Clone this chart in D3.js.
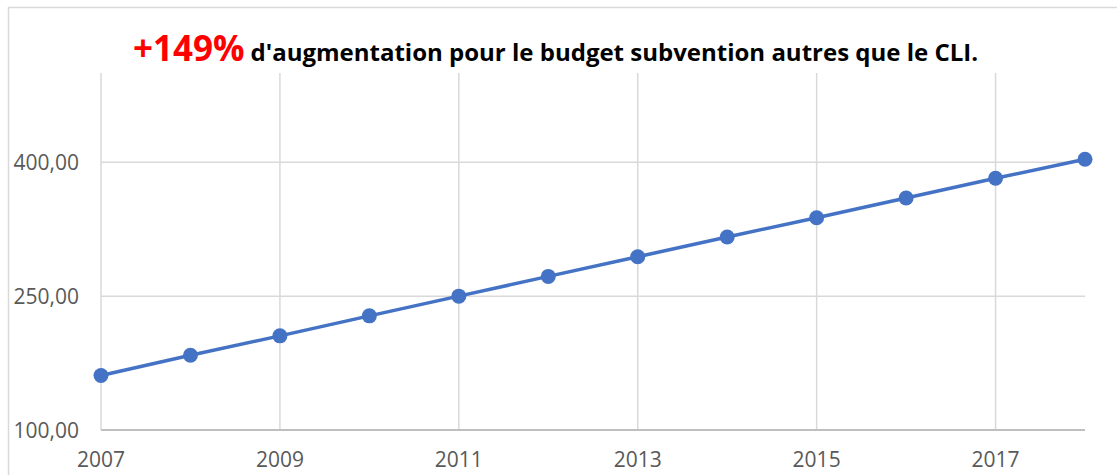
<!DOCTYPE html>
<html>
<head>
<meta charset="utf-8">
<script src="https://cdn.jsdelivr.net/npm/d3@7"></script>
<style>
    body { margin: 0; background: #fff; }
    svg { display: block; font-family: 'Open Sans', 'Noto Sans', sans-serif; }
</style>
</head>
<body>
<div id="chart"></div>
<script>
// Budget subvention (hors CLI) par année
const years = [2007, 2008, 2009, 2010, 2011, 2012, 2013, 2014, 2015, 2016, 2017, 2018];
const budget = [161.0, 183.8, 205.5, 227.9, 250.0, 272.1, 294.1, 316.3, 337.8, 360.0, 382.0, 403.4];
const yTicks = [100, 250, 400];
const xTicks = [2007, 2009, 2011, 2013, 2015, 2017];
const titleHighlight = '+149%';
const titleRest = "d'augmentation pour le budget subvention autres que le CLI.";

const totalWidth = 1117;
const totalHeight = 475;
const plot = { left: 101, right: 1085, top: 73, bottom: 430 };

const svg = d3.select('#chart')
    .append('svg')
    .attr('width', totalWidth)
    .attr('height', totalHeight);

// Chart frame (runs off the right and bottom of the picture)
svg.append('rect')
    .attr('x', 8.5)
    .attr('y', 7.5)
    .attr('width', 1130)
    .attr('height', 480)
    .style('fill', 'none')
    .style('stroke', '#d9d9d9')
    .style('stroke-width', 1.5);

// Scales
const x = d3.scaleLinear()
    .domain([2007, 2018])
    .range([plot.left, plot.right]);

const y = d3.scaleLinear()
    .domain([100, 500])
    .range([plot.bottom, plot.top]);

// Horizontal grid lines
svg.append('g')
    .selectAll('line')
    .data(yTicks.filter(d => d > 100))
    .enter()
    .append('line')
    .attr('x1', plot.left)
    .attr('x2', plot.right)
    .attr('y1', d => y(d))
    .attr('y2', d => y(d))
    .style('stroke', '#d9d9d9')
    .style('stroke-width', 1.5);

// Vertical grid lines
svg.append('g')
    .selectAll('line')
    .data(xTicks)
    .enter()
    .append('line')
    .attr('x1', d => x(d))
    .attr('x2', d => x(d))
    .attr('y1', plot.top)
    .attr('y2', plot.bottom)
    .style('stroke', '#d9d9d9')
    .style('stroke-width', 1.5);

// Bottom axis line
svg.append('line')
    .attr('x1', plot.left)
    .attr('x2', plot.right)
    .attr('y1', y(100))
    .attr('y2', y(100))
    .style('stroke', '#bfbfbf')
    .style('stroke-width', 2);

// Y tick labels
const frFormat = d3.formatLocale({ decimal: ',', thousands: ' ', grouping: [3], currency: ['', ' €'] }).format('.2f');

svg.append('g')
    .selectAll('text')
    .data(yTicks)
    .enter()
    .append('text')
    .attr('x', 79)
    .attr('y', d => y(d))
    .attr('dy', '0.36em')
    .attr('text-anchor', 'end')
    .style('font-size', '21px')
    .style('fill', '#595959')
    .text(d => frFormat(d));

// X tick labels
svg.append('g')
    .selectAll('text')
    .data(xTicks)
    .enter()
    .append('text')
    .attr('x', d => x(d))
    .attr('y', 467)
    .attr('text-anchor', 'middle')
    .style('font-size', '21px')
    .style('fill', '#595959')
    .text(d => d);

// Line + markers
const line = d3.line()
    .x((d, i) => x(years[i]))
    .y(d => y(d));

svg.append('path')
    .datum(budget)
    .attr('d', line)
    .style('fill', 'none')
    .style('stroke', '#4472c4')
    .style('stroke-width', 3.5)
    .style('stroke-linejoin', 'round');

svg.append('g')
    .selectAll('circle')
    .data(budget)
    .enter()
    .append('circle')
    .attr('cx', (d, i) => x(years[i]))
    .attr('cy', d => y(d))
    .attr('r', 7.5)
    .style('fill', '#4472c4');

// Title
const title = svg.append('text')
    .attr('x', 133)
    .attr('y', 61)
    .style('font-weight', 'bold');

title.append('tspan')
    .style('font-size', '35px')
    .style('fill', '#ff0000')
    .text(titleHighlight);

title.append('tspan')
    .attr('dx', 6)
    .style('font-size', '24px')
    .style('fill', '#000')
    .text(titleRest);
</script>
</body>
</html>
